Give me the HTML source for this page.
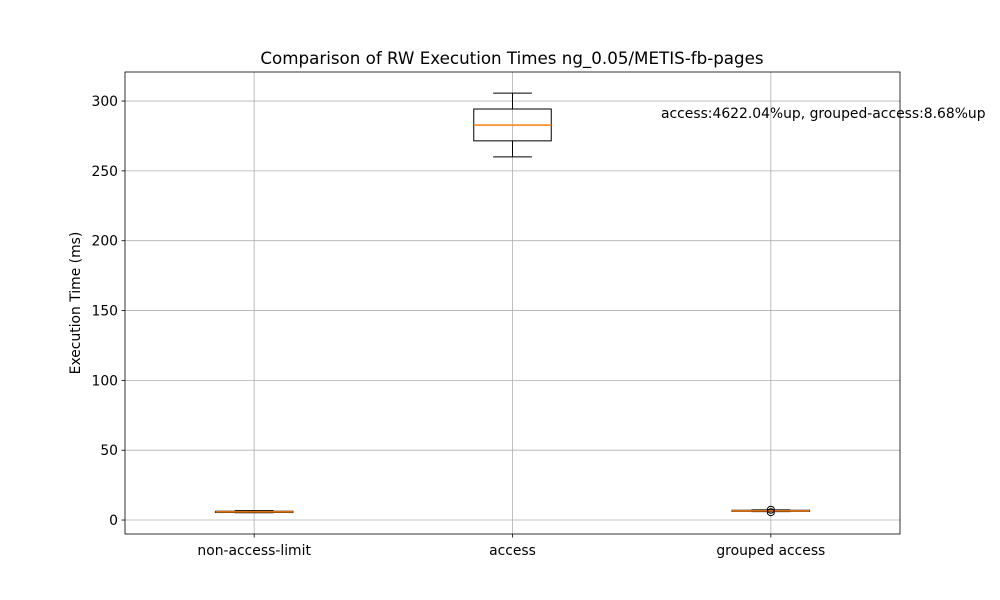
<!DOCTYPE html>
<html><head><meta charset="utf-8"><style>body{margin:0;background:#fff}svg{display:block;font-family:"DejaVu Sans","Liberation Sans",sans-serif}</style></head>
<body>
<svg id="c" width="1000" height="600"></svg>
<script>
const categories=["non-access-limit","access","grouped access"];
const q1s=[5.4,271.5,6.2];
const medians=[5.8,282.8,6.6];
const q3s=[6.3,294.3,7.0];
const whiskLo=[5.2,260.0,6.0];
const whiskHi=[6.7,305.7,7.3];
const outliers=[[],[],[5.6,7.4]];
const yTicks=[0,50,100,150,200,250,300];
const L=125,R=900,T=72,B=534,ymin=-10.0,ymax=320.8,xmin=0.5,xmax=3.5;
const X=v=>L+(v-xmin)/(xmax-xmin)*(R-L);
const Y=v=>B-(v-ymin)/(ymax-ymin)*(B-T);
const svg=document.getElementById('c');const NS='http://www.w3.org/2000/svg';
function mk(t,a,p){const e=document.createElementNS(NS,t);for(const k in a)e.setAttribute(k,a[k]);(p||svg).appendChild(e);return e;}
yTicks.forEach(v=>{
const g=mk('line',{x1:L,x2:R,y1:Y(v),y2:Y(v),stroke:'#b0b0b0','stroke-width':0.8});


mk('line',{x1:L-3.5,x2:L,y1:Y(v),y2:Y(v),stroke:'#000','stroke-width':0.8});
const t=mk('text',{x:L-7,y:Y(v)+5,'text-anchor':'end','font-size':13.9});t.textContent=v;


});
categories.forEach((c,i)=>{
const x=X(i+1);
const g=mk('line',{x1:x,x2:x,y1:T,y2:B,stroke:'#b0b0b0','stroke-width':0.8});


mk('line',{x1:x,x2:x,y1:B,y2:B+3.5,stroke:'#000','stroke-width':0.8});
const t=mk('text',{x:x,y:B+21,'text-anchor':'middle','font-size':13.9});t.textContent=c;


});
categories.forEach((c,i)=>{
const x=X(i+1),hw=0.15*(R-L)/3,cw=hw/2;
const grp=mk('g',{});


mk('line',{x1:x,x2:x,y1:Y(q3s[i]),y2:Y(whiskHi[i]),stroke:'#000'},grp);
mk('line',{x1:x,x2:x,y1:Y(q1s[i]),y2:Y(whiskLo[i]),stroke:'#000'},grp);
mk('line',{x1:x-cw,x2:x+cw,y1:Y(whiskHi[i]),y2:Y(whiskHi[i]),stroke:'#000'},grp);
mk('line',{x1:x-cw,x2:x+cw,y1:Y(whiskLo[i]),y2:Y(whiskLo[i]),stroke:'#000'},grp);
mk('rect',{x:x-hw,y:Y(q3s[i]),width:2*hw,height:Math.max(0.5,Y(q1s[i])-Y(q3s[i])),fill:'none',stroke:'#000'},grp);
mk('line',{x1:x-hw,x2:x+hw,y1:Y(medians[i]),y2:Y(medians[i]),stroke:'#ff7f0e','stroke-width':1.5},grp);
outliers[i].forEach(o=>mk('circle',{cx:x,cy:Y(o),r:3.5,fill:'none',stroke:'#000'},grp));
});
const fr=mk('rect',{x:L,y:T,width:R-L,height:B-T,fill:'none',stroke:'#000','stroke-width':0.8});


let t=mk('text',{x:512,y:64,'text-anchor':'middle','font-size':16.7});t.textContent='Comparison of RW Execution Times ng_0.05/METIS-fb-pages';


t=mk('text',{x:80,y:303,'text-anchor':'middle','font-size':13.9,transform:'rotate(-90 80 303)'});t.textContent='Execution Time (ms)';


t=mk('text',{x:661,y:118,'font-size':13.9});t.textContent='access:4622.04%up, grouped-access:8.68%up';


</script>
</body></html>
